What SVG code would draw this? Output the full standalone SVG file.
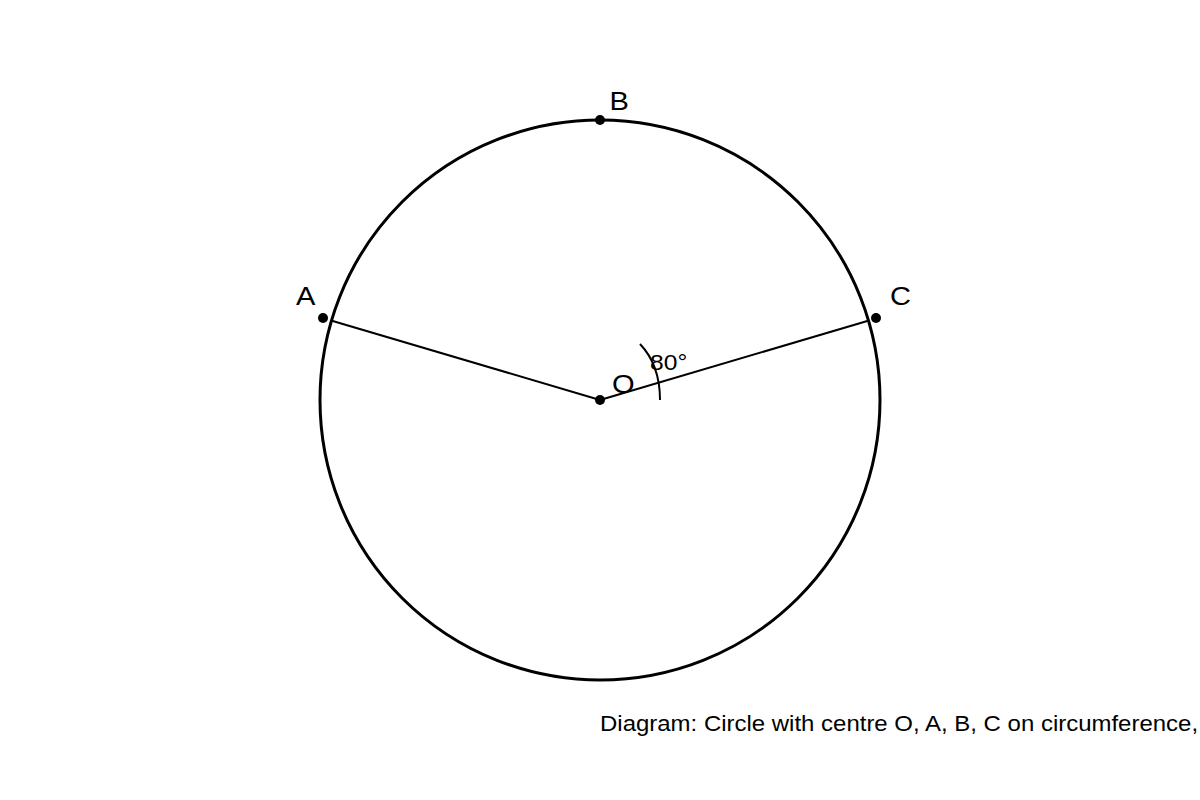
<svg xmlns="http://www.w3.org/2000/svg" width="1200" height="800" viewBox="0 0 1200 800">
<style>
text{font-family:"Liberation Sans",Arial,sans-serif;fill:#000}
.lbl{font-size:26px}
.pt{fill:#000}
</style>
<rect width="1200" height="800" fill="#fff"/>
<circle cx="600" cy="400" r="280" fill="none" stroke="#000" stroke-width="3"/>
<g id="connectors" stroke="#000" stroke-width="2" fill="none">
<line x1="600" y1="400" x2="331" y2="320.5"/>
<line x1="600" y1="400" x2="869" y2="320.5"/>
<path d="M640,344 Q660,365 660,400"/>
</g>
<g id="nodeO"><circle class="pt" cx="600" cy="400" r="5"/><text class="lbl" transform="translate(612,393) scale(1.12,1)">O</text></g>
<g id="nodeA"><circle class="pt" cx="323" cy="318" r="5"/><text class="lbl" transform="translate(296,305) scale(1.12,1)">A</text></g>
<g id="nodeB"><circle class="pt" cx="600" cy="120" r="5"/><text class="lbl" transform="translate(609.5,109.5) scale(1.12,1)">B</text></g>
<g id="nodeC"><circle class="pt" cx="876" cy="318" r="5"/><text class="lbl" transform="translate(890,305) scale(1.12,1)">C</text></g>
<text font-size="22" transform="translate(650,370) scale(1.12,1)">80°</text>
<text font-size="22" transform="translate(600,730.5) scale(1.09,1)">Diagram: Circle with centre O, A, B, C on circumference,</text>
</svg>
